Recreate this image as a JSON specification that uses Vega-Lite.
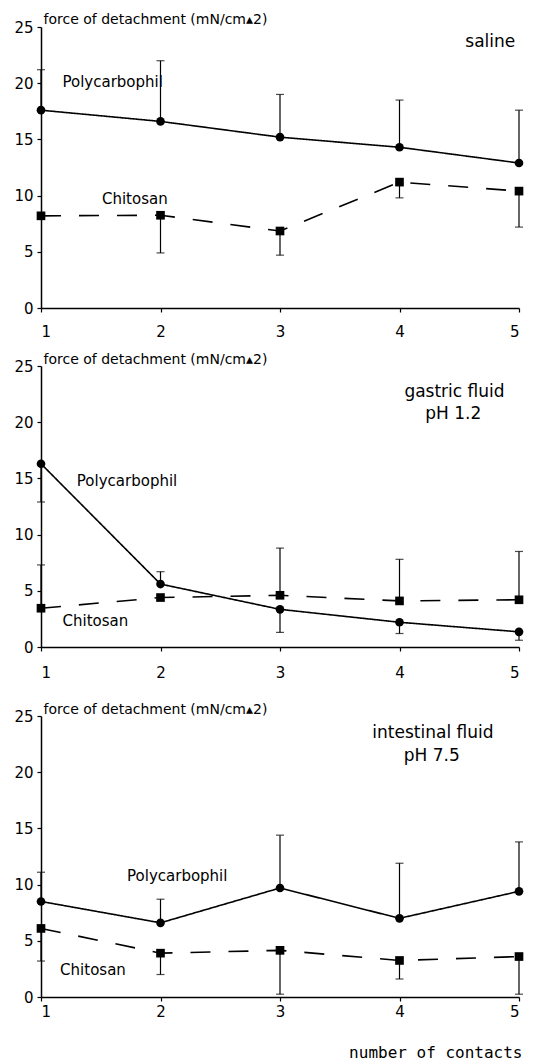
{
  "$schema": "https://vega.github.io/schema/vega-lite/v6.json",
  "autosize": {"type": "pad"},
  "padding": {"left": 13, "top": 12, "right": 0, "bottom": 0},
  "background": "white",
  "datasets": {
    "pts": [
      {"cond": "saline", "series": "Polycarbophil", "n": 1, "v": 17.6},
      {"cond": "saline", "series": "Polycarbophil", "n": 2, "v": 16.6},
      {"cond": "saline", "series": "Polycarbophil", "n": 3, "v": 15.2},
      {"cond": "saline", "series": "Polycarbophil", "n": 4, "v": 14.3},
      {"cond": "saline", "series": "Polycarbophil", "n": 5, "v": 12.9},
      {"cond": "saline", "series": "Chitosan", "n": 1, "v": 8.2},
      {"cond": "saline", "series": "Chitosan", "n": 2, "v": 8.25},
      {"cond": "saline", "series": "Chitosan", "n": 3, "v": 6.85},
      {"cond": "saline", "series": "Chitosan", "n": 4, "v": 11.2},
      {"cond": "saline", "series": "Chitosan", "n": 5, "v": 10.4},
      {"cond": "gastric", "series": "Polycarbophil", "n": 1, "v": 16.3},
      {"cond": "gastric", "series": "Polycarbophil", "n": 2, "v": 5.6},
      {"cond": "gastric", "series": "Polycarbophil", "n": 3, "v": 3.35},
      {"cond": "gastric", "series": "Polycarbophil", "n": 4, "v": 2.2},
      {"cond": "gastric", "series": "Polycarbophil", "n": 5, "v": 1.35},
      {"cond": "gastric", "series": "Chitosan", "n": 1, "v": 3.45},
      {"cond": "gastric", "series": "Chitosan", "n": 2, "v": 4.4},
      {"cond": "gastric", "series": "Chitosan", "n": 3, "v": 4.6},
      {"cond": "gastric", "series": "Chitosan", "n": 4, "v": 4.1},
      {"cond": "gastric", "series": "Chitosan", "n": 5, "v": 4.2},
      {"cond": "intestinal", "series": "Polycarbophil", "n": 1, "v": 8.5},
      {"cond": "intestinal", "series": "Polycarbophil", "n": 2, "v": 6.6},
      {"cond": "intestinal", "series": "Polycarbophil", "n": 3, "v": 9.7},
      {"cond": "intestinal", "series": "Polycarbophil", "n": 4, "v": 7.0},
      {"cond": "intestinal", "series": "Polycarbophil", "n": 5, "v": 9.4},
      {"cond": "intestinal", "series": "Chitosan", "n": 1, "v": 6.1},
      {"cond": "intestinal", "series": "Chitosan", "n": 2, "v": 3.9},
      {"cond": "intestinal", "series": "Chitosan", "n": 3, "v": 4.15},
      {"cond": "intestinal", "series": "Chitosan", "n": 4, "v": 3.25},
      {"cond": "intestinal", "series": "Chitosan", "n": 5, "v": 3.6}
    ],
    "err": [
      {"cond": "saline", "series": "Polycarbophil", "n": 1, "v": 17.6, "cap": 21.2},
      {"cond": "saline", "series": "Polycarbophil", "n": 2, "v": 16.6, "cap": 22.0},
      {"cond": "saline", "series": "Polycarbophil", "n": 3, "v": 15.2, "cap": 19.0},
      {"cond": "saline", "series": "Polycarbophil", "n": 4, "v": 14.3, "cap": 18.5},
      {"cond": "saline", "series": "Polycarbophil", "n": 5, "v": 12.9, "cap": 17.6},
      {"cond": "saline", "series": "Chitosan", "n": 2, "v": 8.25, "cap": 4.9},
      {"cond": "saline", "series": "Chitosan", "n": 3, "v": 6.85, "cap": 4.7},
      {"cond": "saline", "series": "Chitosan", "n": 4, "v": 11.2, "cap": 9.8},
      {"cond": "saline", "series": "Chitosan", "n": 5, "v": 10.4, "cap": 7.2},
      {"cond": "gastric", "series": "Polycarbophil", "n": 1, "v": 16.3, "cap": 12.9},
      {"cond": "gastric", "series": "Polycarbophil", "n": 2, "v": 5.6, "cap": 6.7},
      {"cond": "gastric", "series": "Polycarbophil", "n": 3, "v": 3.35, "cap": 1.3},
      {"cond": "gastric", "series": "Polycarbophil", "n": 4, "v": 2.2, "cap": 1.2},
      {"cond": "gastric", "series": "Polycarbophil", "n": 5, "v": 1.35, "cap": 0.6},
      {"cond": "gastric", "series": "Chitosan", "n": 1, "v": 3.45, "cap": 7.3},
      {"cond": "gastric", "series": "Chitosan", "n": 3, "v": 4.6, "cap": 8.8},
      {"cond": "gastric", "series": "Chitosan", "n": 4, "v": 4.1, "cap": 7.8},
      {"cond": "gastric", "series": "Chitosan", "n": 5, "v": 4.2, "cap": 8.5},
      {"cond": "intestinal", "series": "Polycarbophil", "n": 1, "v": 8.5, "cap": 11.1},
      {"cond": "intestinal", "series": "Polycarbophil", "n": 2, "v": 6.6, "cap": 8.7},
      {"cond": "intestinal", "series": "Polycarbophil", "n": 3, "v": 9.7, "cap": 14.4},
      {"cond": "intestinal", "series": "Polycarbophil", "n": 4, "v": 7.0, "cap": 11.9},
      {"cond": "intestinal", "series": "Polycarbophil", "n": 5, "v": 9.4, "cap": 13.8},
      {"cond": "intestinal", "series": "Chitosan", "n": 1, "v": 6.1, "cap": 3.2},
      {"cond": "intestinal", "series": "Chitosan", "n": 2, "v": 3.9, "cap": 2.0},
      {"cond": "intestinal", "series": "Chitosan", "n": 3, "v": 4.15, "cap": 0.25},
      {"cond": "intestinal", "series": "Chitosan", "n": 4, "v": 3.25, "cap": 1.6},
      {"cond": "intestinal", "series": "Chitosan", "n": 5, "v": 3.6, "cap": 0.25}
    ],
    "serieslab": [
      {"cond": "saline", "n": 1.18, "v": 20.1, "text": "Polycarbophil"},
      {"cond": "saline", "n": 1.51, "v": 9.7, "text": "Chitosan"},
      {"cond": "gastric", "n": 1.30, "v": 14.8, "text": "Polycarbophil"},
      {"cond": "gastric", "n": 1.18, "v": 2.3, "text": "Chitosan"},
      {"cond": "intestinal", "n": 1.72, "v": 10.8, "text": "Polycarbophil"},
      {"cond": "intestinal", "n": 1.16, "v": 2.4, "text": "Chitosan"}
    ],
    "condlab": [
      {"cond": "saline", "n": 4.76, "v": 23.7, "text": "saline"},
      {"cond": "gastric", "n": 4.46, "v": 22.7, "text": "gastric  fluid"},
      {"cond": "gastric", "n": 4.45, "v": 20.7, "text": "pH  1.2"},
      {"cond": "intestinal", "n": 4.28, "v": 23.5, "text": "intestinal  fluid"},
      {"cond": "intestinal", "n": 4.27, "v": 21.4, "text": "pH  7.5"}
    ]
  },
  "bounds": "flush",
  "spacing": 58,
  "vconcat": [
    {
      "width": 478, "height": 281,
      "layer": [
        {
          "data": {"name": "pts"},
          "transform": [{"filter": "datum.cond === 'saline'"}],
          "mark": {"type": "line", "color": "black", "strokeWidth": 1.6},
          "encoding": {
            "x": {"field": "n", "type": "quantitative", "scale": {"domain": [1, 5], "nice": false, "zero": false},
                  "axis": {"values": [1, 2, 3, 4, 5], "format": "d", "title": null, "labelPadding": 12}},
            "y": {"field": "v", "type": "quantitative", "scale": {"domain": [0, 25], "nice": false},
                  "axis": {"values": [0, 5, 10, 15, 20, 25], "title": "force of detachment (mN/cm▴2)", "titleAngle": 0, "titleX": 2, "titleY": -8, "titleAlign": "left", "titleBaseline": "middle"}},
            "detail": {"field": "series"},
            "strokeDash": {"field": "series", "type": "nominal", "scale": {"domain": ["Polycarbophil", "Chitosan"], "range": [[1, 0], [20, 18]]}, "legend": null}
          }
        },
        {
          "data": {"name": "err"},
          "transform": [{"filter": "datum.cond === 'saline'"}],
          "mark": {"type": "rule", "color": "black", "strokeWidth": 1.2},
          "encoding": {"x": {"field": "n", "type": "quantitative"}, "y": {"field": "v", "type": "quantitative"}, "y2": {"field": "cap"}}
        },
        {
          "data": {"name": "err"},
          "transform": [{"filter": "datum.cond === 'saline'"}],
          "mark": {"type": "tick", "orient": "horizontal", "color": "black", "size": 8, "thickness": 1.2},
          "encoding": {"x": {"field": "n", "type": "quantitative"}, "y": {"field": "cap", "type": "quantitative"}}
        },
        {
          "data": {"name": "pts"},
          "transform": [{"filter": "datum.cond === 'saline'"}],
          "mark": {"type": "point", "filled": true, "color": "black", "opacity": 1, "size": 75},
          "encoding": {
            "x": {"field": "n", "type": "quantitative"}, "y": {"field": "v", "type": "quantitative"},
            "shape": {"field": "series", "type": "nominal", "scale": {"domain": ["Polycarbophil", "Chitosan"], "range": ["circle", "square"]}, "legend": null}
          }
        },
        {
          "data": {"name": "serieslab"},
          "transform": [{"filter": "datum.cond === 'saline'"}],
          "mark": {"type": "text", "align": "left", "baseline": "middle", "fontSize": 15},
          "encoding": {"x": {"field": "n", "type": "quantitative"}, "y": {"field": "v", "type": "quantitative"}, "text": {"field": "text"}}
        },
        {
          "data": {"name": "condlab"},
          "transform": [{"filter": "datum.cond === 'saline'"}],
          "mark": {"type": "text", "align": "center", "baseline": "middle", "fontSize": 17},
          "encoding": {"x": {"field": "n", "type": "quantitative"}, "y": {"field": "v", "type": "quantitative"}, "text": {"field": "text"}}
        }
      ]
    },
    {
      "bounds": "flush",
      "spacing": 69,
      "vconcat": [
        {
          "width": 478, "height": 281,
          "layer": [
            {
              "data": {"name": "pts"},
              "transform": [{"filter": "datum.cond === 'gastric'"}],
              "mark": {"type": "line", "color": "black", "strokeWidth": 1.6},
              "encoding": {
                "x": {"field": "n", "type": "quantitative", "scale": {"domain": [1, 5], "nice": false, "zero": false},
                      "axis": {"values": [1, 2, 3, 4, 5], "format": "d", "title": null, "labelPadding": 14}},
                "y": {"field": "v", "type": "quantitative", "scale": {"domain": [0, 25], "nice": false},
                      "axis": {"values": [0, 5, 10, 15, 20, 25], "title": "force of detachment (mN/cm▴2)", "titleAngle": 0, "titleX": 2, "titleY": -7, "titleAlign": "left", "titleBaseline": "middle"}},
                "detail": {"field": "series"},
                "strokeDash": {"field": "series", "type": "nominal", "scale": {"domain": ["Polycarbophil", "Chitosan"], "range": [[1, 0], [20, 18]]}, "legend": null}
              }
            },
            {
              "data": {"name": "err"},
              "transform": [{"filter": "datum.cond === 'gastric'"}],
              "mark": {"type": "rule", "color": "black", "strokeWidth": 1.2},
              "encoding": {"x": {"field": "n", "type": "quantitative"}, "y": {"field": "v", "type": "quantitative"}, "y2": {"field": "cap"}}
            },
            {
              "data": {"name": "err"},
              "transform": [{"filter": "datum.cond === 'gastric'"}],
              "mark": {"type": "tick", "orient": "horizontal", "color": "black", "size": 8, "thickness": 1.2},
              "encoding": {"x": {"field": "n", "type": "quantitative"}, "y": {"field": "cap", "type": "quantitative"}}
            },
            {
              "data": {"name": "pts"},
              "transform": [{"filter": "datum.cond === 'gastric'"}],
              "mark": {"type": "point", "filled": true, "color": "black", "opacity": 1, "size": 75},
              "encoding": {
                "x": {"field": "n", "type": "quantitative"}, "y": {"field": "v", "type": "quantitative"},
                "shape": {"field": "series", "type": "nominal", "scale": {"domain": ["Polycarbophil", "Chitosan"], "range": ["circle", "square"]}, "legend": null}
              }
            },
            {
              "data": {"name": "serieslab"},
              "transform": [{"filter": "datum.cond === 'gastric'"}],
              "mark": {"type": "text", "align": "left", "baseline": "middle", "fontSize": 15},
              "encoding": {"x": {"field": "n", "type": "quantitative"}, "y": {"field": "v", "type": "quantitative"}, "text": {"field": "text"}}
            },
            {
              "data": {"name": "condlab"},
              "transform": [{"filter": "datum.cond === 'gastric'"}],
              "mark": {"type": "text", "align": "center", "baseline": "middle", "fontSize": 17},
              "encoding": {"x": {"field": "n", "type": "quantitative"}, "y": {"field": "v", "type": "quantitative"}, "text": {"field": "text"}}
            }
          ]
        },
        {
          "width": 478, "height": 281,
          "layer": [
            {
              "data": {"name": "pts"},
              "transform": [{"filter": "datum.cond === 'intestinal'"}],
              "mark": {"type": "line", "color": "black", "strokeWidth": 1.6},
              "encoding": {
                "x": {"field": "n", "type": "quantitative", "scale": {"domain": [1, 5], "nice": false, "zero": false},
                      "axis": {"values": [1, 2, 3, 4, 5], "format": "d", "title": "number of contacts", "labelPadding": 3,
                               "titleFont": "DejaVu Sans Mono", "titleFontSize": 16, "titleFontWeight": "normal", "titleAlign": "right", "titleAnchor": "end", "titleX": 481, "titleY": 60, "titleBaseline": "alphabetic"}},
                "y": {"field": "v", "type": "quantitative", "scale": {"domain": [0, 25], "nice": false},
                      "axis": {"values": [0, 5, 10, 15, 20, 25], "title": "force of detachment (mN/cm▴2)", "titleAngle": 0, "titleX": 2, "titleY": -7, "titleAlign": "left", "titleBaseline": "middle"}},
                "detail": {"field": "series"},
                "strokeDash": {"field": "series", "type": "nominal", "scale": {"domain": ["Polycarbophil", "Chitosan"], "range": [[1, 0], [20, 18]]}, "legend": null}
              }
            },
            {
              "data": {"name": "err"},
              "transform": [{"filter": "datum.cond === 'intestinal'"}],
              "mark": {"type": "rule", "color": "black", "strokeWidth": 1.2},
              "encoding": {"x": {"field": "n", "type": "quantitative"}, "y": {"field": "v", "type": "quantitative"}, "y2": {"field": "cap"}}
            },
            {
              "data": {"name": "err"},
              "transform": [{"filter": "datum.cond === 'intestinal'"}],
              "mark": {"type": "tick", "orient": "horizontal", "color": "black", "size": 8, "thickness": 1.2},
              "encoding": {"x": {"field": "n", "type": "quantitative"}, "y": {"field": "cap", "type": "quantitative"}}
            },
            {
              "data": {"name": "pts"},
              "transform": [{"filter": "datum.cond === 'intestinal'"}],
              "mark": {"type": "point", "filled": true, "color": "black", "opacity": 1, "size": 75},
              "encoding": {
                "x": {"field": "n", "type": "quantitative"}, "y": {"field": "v", "type": "quantitative"},
                "shape": {"field": "series", "type": "nominal", "scale": {"domain": ["Polycarbophil", "Chitosan"], "range": ["circle", "square"]}, "legend": null}
              }
            },
            {
              "data": {"name": "serieslab"},
              "transform": [{"filter": "datum.cond === 'intestinal'"}],
              "mark": {"type": "text", "align": "left", "baseline": "middle", "fontSize": 15},
              "encoding": {"x": {"field": "n", "type": "quantitative"}, "y": {"field": "v", "type": "quantitative"}, "text": {"field": "text"}}
            },
            {
              "data": {"name": "condlab"},
              "transform": [{"filter": "datum.cond === 'intestinal'"}],
              "mark": {"type": "text", "align": "center", "baseline": "middle", "fontSize": 17},
              "encoding": {"x": {"field": "n", "type": "quantitative"}, "y": {"field": "v", "type": "quantitative"}, "text": {"field": "text"}}
            }
          ]
        }
      ]
    }
  ],
  "config": {
    "view": {"stroke": null},
    "axis": {
      "grid": false, "domainColor": "black", "domainWidth": 1.5, "tickColor": "black", "tickWidth": 1.2, "tickSize": 4,
      "labelColor": "black", "labelFont": "DejaVu Sans", "labelFontSize": 15,
      "titleColor": "black", "titleFont": "DejaVu Sans", "titleFontSize": 14, "titleFontWeight": "normal"
    },
    "axisY": {"labelPadding": 4},
    "text": {"font": "DejaVu Sans", "color": "black"}
  }
}
